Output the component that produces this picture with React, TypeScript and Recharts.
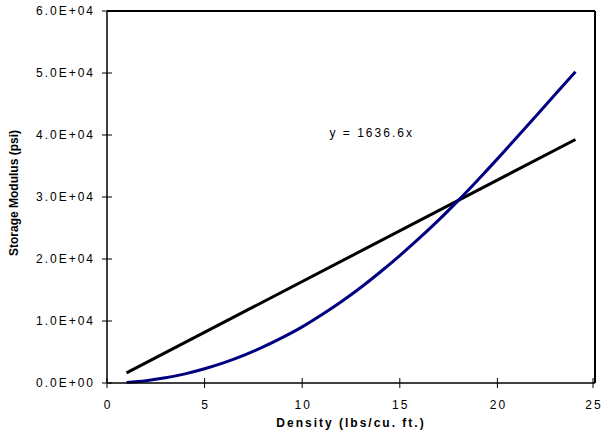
import React from 'react';
import {
  LineChart,
  Line,
  XAxis,
  YAxis,
  Label,
  ReferenceDot,
  ReferenceLine
} from 'recharts';

// density in lbs/cu. ft.
const DENSITY = [1, 2, 3, 4, 5, 6, 7, 8, 9, 10, 11, 12, 13, 14, 15, 16, 17, 18, 19, 20, 21, 22, 23, 24];
// storage modulus (psi)
const MODULUS = [
  100, 380, 840, 1470, 2290, 3280, 4450, 5820, 7350, 9050, 11000, 13100,
  15400, 17900, 20550, 23350, 26300, 29450, 32750, 36150, 39650, 43150, 46700, 50200
];
// linear fit end points
const FIT_X = [1, 24];
const FIT_Y = [1640, 39280];

const X_TICKS = [0, 5, 10, 15, 20, 25];
const Y_TICKS = [0, 10000, 20000, 30000, 40000, 50000, 60000];

const curveData = DENSITY.map((d, i) => ({ x: d, y: MODULUS[i] }));
const fitData = FIT_X.map((d, i) => ({ x: d, y: FIT_Y[i] }));

const FONT = '"Liberation Sans", Arial, sans-serif';

const sci = (v: number) => {
  if (v === 0) return '0.0E+00';
  const e = Math.floor(Math.log10(v));
  const m = v / Math.pow(10, e);
  return `${m.toFixed(1)}E+${String(e).padStart(2, '0')}`;
};

const YTick = (props: any) => {
  const { x, y, payload } = props;
  return (
    <g>
      <line x1={x - 5} x2={x + 5} y1={y} y2={y} stroke="#000" strokeWidth={1} />
      <text x={x - 12} y={y + 4} textAnchor="end" fontSize={12} fontFamily={FONT} letterSpacing={2} fill="#000">
        {sci(payload.value)}
      </text>
    </g>
  );
};

const XTick = (props: any) => {
  const { x, y, payload } = props;
  return (
    <g>
      <line x1={x} x2={x} y1={y - 5} y2={y + 5} stroke="#000" strokeWidth={1} />
      <text x={x + 1} y={y + 26} textAnchor="middle" fontSize={12} fontFamily={FONT} letterSpacing={2} fill="#000">
        {payload.value}
      </text>
    </g>
  );
};

const FitLabel = (props: any) => {
  const vb = props.viewBox || {};
  return (
    <text x={vb.x} y={vb.y + 4} fontSize={12} fontFamily={FONT} letterSpacing={2} fill="#000">
      y = 1636.6x
    </text>
  );
};

const App: React.FC = () => {
  return (
    <div style={{ position: 'absolute', left: 0, top: 0, width: 601, height: 440, background: '#fff' }}>
      <LineChart width={601} height={440} margin={{ top: 11, right: 6, bottom: 0, left: 0 }}>
        <XAxis
          xAxisId="b"
          dataKey="x"
          type="number"
          domain={[0, 25]}
          ticks={X_TICKS}
          height={57}
          tickSize={0}
          tickMargin={0}
          tick={<XTick />}
          axisLine={{ stroke: '#000', strokeWidth: 1.5 }}
          allowDuplicatedCategory={false}
        >
          <Label
            value="Density (lbs/cu. ft.)"
            position="insideBottom"
            offset={13}
            style={{ fontFamily: FONT, fontSize: 12, fontWeight: 'bold', letterSpacing: 2, fill: '#000' }}
          />
        </XAxis>
        <YAxis
          yAxisId="l"
          type="number"
          domain={[0, 60000]}
          ticks={Y_TICKS}
          width={107}
          tickSize={0}
          tickMargin={0}
          tick={<YTick />}
          axisLine={{ stroke: '#000', strokeWidth: 1.5 }}
        >
          <Label
            value="Storage Modulus (psi)"
            angle={-90}
            position="insideLeft"
            offset={14}
            dy={-4}
            style={{ fontFamily: FONT, fontSize: 12, fontWeight: 'bold', fill: '#000', textAnchor: 'middle' }}
          />
        </YAxis>
        {/* plot box: top and right edges */}
        <ReferenceLine xAxisId="b" yAxisId="l" y={60000} stroke="#000" strokeWidth={2} />
        <ReferenceLine xAxisId="b" yAxisId="l" x={25} stroke="#000" strokeWidth={2} />
        <Line
          xAxisId="b"
          yAxisId="l"
          data={fitData}
          dataKey="y"
          type="linear"
          stroke="#000"
          strokeWidth={3}
          dot={false}
          isAnimationActive={false}
        />
        <Line
          xAxisId="b"
          yAxisId="l"
          data={curveData}
          dataKey="y"
          type="monotone"
          stroke="#000080"
          strokeWidth={3}
          dot={false}
          isAnimationActive={false}
        />
        <ReferenceDot
          xAxisId="b"
          yAxisId="l"
          x={11.4}
          y={40300}
          r={0}
          fill="none"
          stroke="none"
          label={<FitLabel />}
        />
      </LineChart>
    </div>
  );
};

export default App;
